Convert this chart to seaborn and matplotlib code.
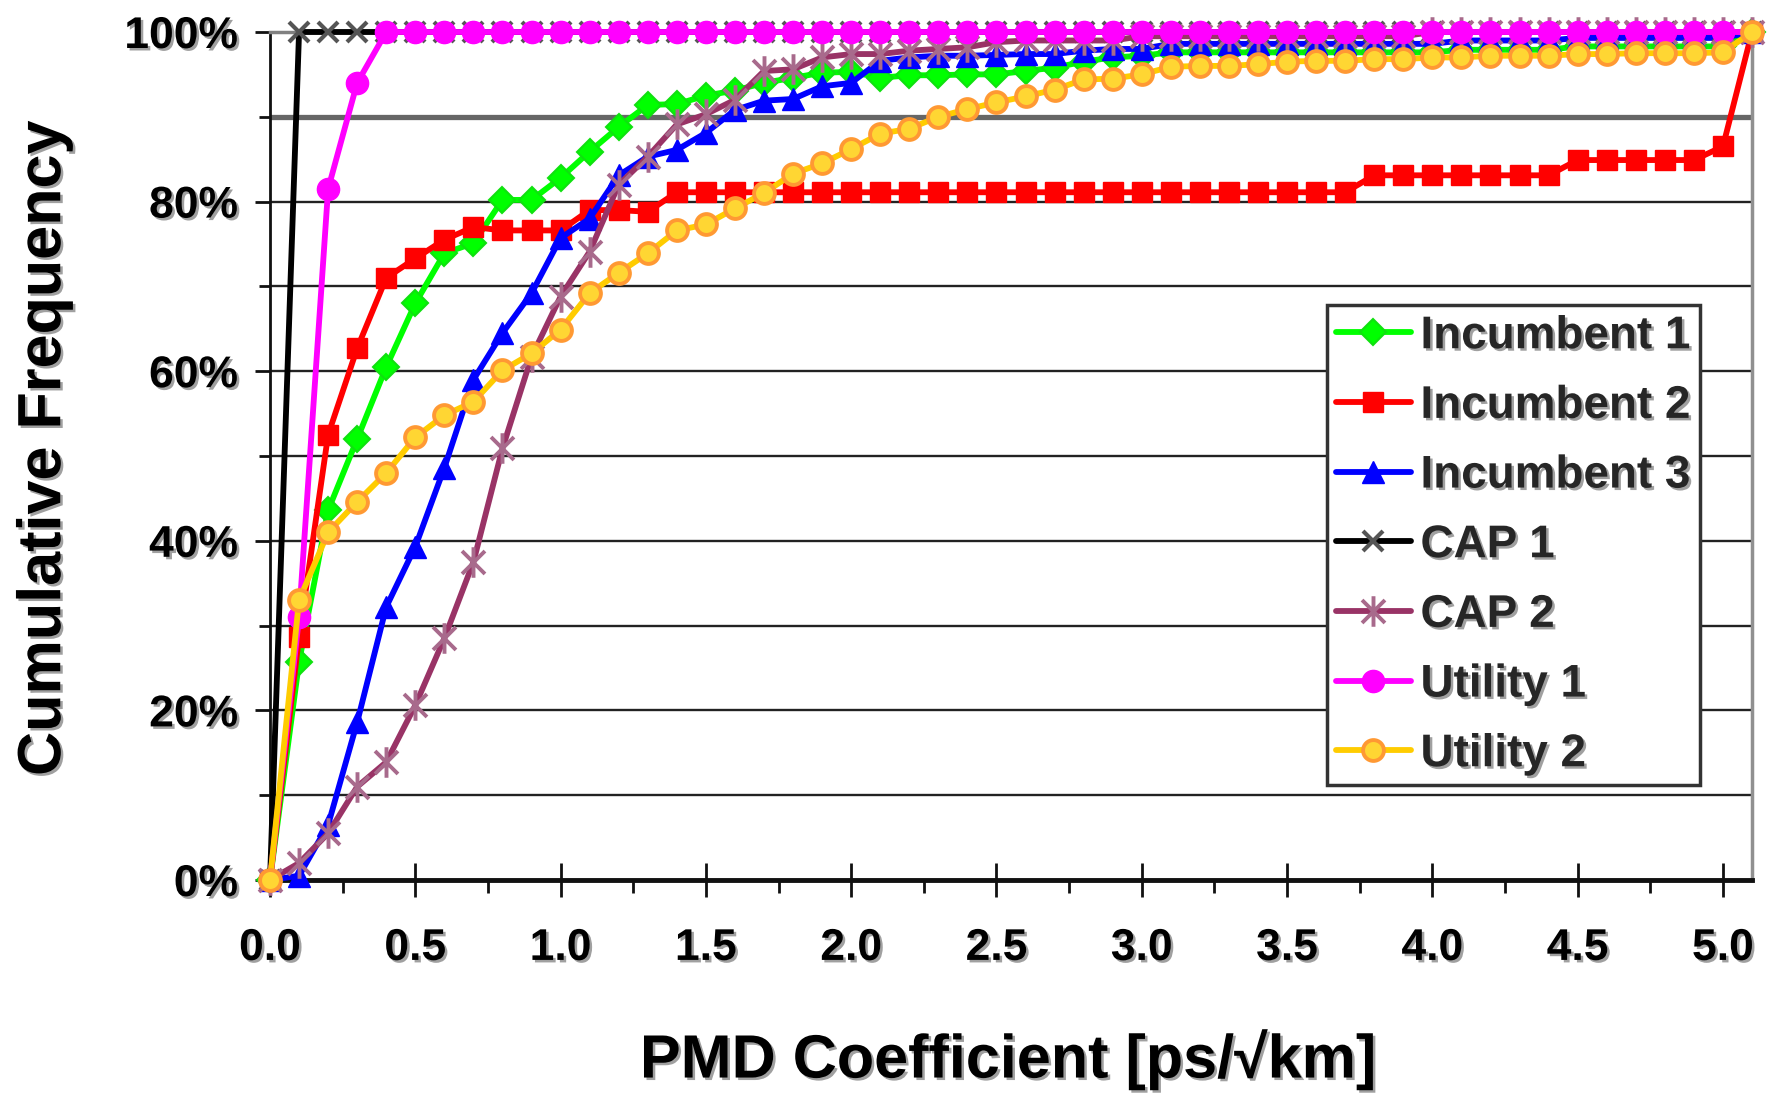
import matplotlib
matplotlib.use("Agg")
import matplotlib.pyplot as plt
import matplotlib.patheffects as pe
from matplotlib.path import Path
from matplotlib.ticker import MultipleLocator, PercentFormatter, FormatStrFormatter
import seaborn as sns
import pandas as pd

# PMD coefficient bins [ps/sqrt(km)]
pmd = [0.0, 0.1, 0.2, 0.3, 0.4, 0.5, 0.6, 0.7, 0.8, 0.9,
       1.0, 1.1, 1.2, 1.3, 1.4, 1.5, 1.6, 1.7, 1.8, 1.9,
       2.0, 2.1, 2.2, 2.3, 2.4, 2.5, 2.6, 2.7, 2.8, 2.9,
       3.0, 3.1, 3.2, 3.3, 3.4, 3.5, 3.6, 3.7, 3.8, 3.9,
       4.0, 4.1, 4.2, 4.3, 4.4, 4.5, 4.6, 4.7, 4.8, 4.9,
       5.0, 5.1]

# Cumulative frequency per operator [%]
incumbent_1 = [0, 25.7, 43.6, 52.0, 60.5, 68.0, 73.9, 75.1, 80.2, 80.2,
               82.8, 85.9, 88.8, 91.4, 91.5, 92.5, 93.1, 94.0, 94.6, 95.2,
               95.3, 94.6, 94.9, 94.9, 95.0, 95.0, 95.4, 95.8, 96.5, 97.0,
               97.2, 97.6, 97.6, 97.6, 97.6, 97.6, 97.6, 97.6, 97.6, 97.6,
               97.6, 97.9, 97.9, 97.9, 97.9, 98.3, 98.3, 98.3, 98.3, 98.3,
               98.3, 100]
incumbent_2 = [0, 28.7, 52.5, 62.7, 71.0, 73.3, 75.5, 77.0, 76.6, 76.6,
               76.6, 79.0, 79.0, 78.8, 81.1, 81.1, 81.1, 81.1, 81.1, 81.1,
               81.1, 81.1, 81.1, 81.1, 81.1, 81.1, 81.1, 81.1, 81.1, 81.1,
               81.1, 81.1, 81.1, 81.1, 81.1, 81.1, 81.1, 81.1, 83.1, 83.1,
               83.1, 83.1, 83.1, 83.1, 83.1, 84.9, 84.9, 84.9, 84.9, 84.9,
               86.5, 100]
incumbent_3 = [0, 0.5, 6.5, 18.6, 32.2, 39.3, 48.6, 59.0, 64.5, 69.2,
               75.7, 78.0, 83.1, 85.3, 86.1, 88.1, 90.8, 91.9, 92.1, 93.6,
               94.0, 96.6, 97.0, 97.2, 97.2, 97.3, 97.4, 97.4, 97.8, 98.0,
               98.0, 98.6, 98.6, 98.6, 98.6, 98.6, 98.6, 98.6, 98.6, 98.6,
               98.6, 99.0, 99.0, 99.0, 99.0, 99.3, 99.3, 99.3, 99.3, 99.3,
               99.3, 100]
cap_1 = [0, 100, 100, 100, 100, 100, 100, 100, 100, 100,
         100, 100, 100, 100, 100, 100, 100, 100, 100, 100,
         100, 100, 100, 100, 100, 100, 100, 100, 100, 100,
         100, 100, 100, 100, 100, 100, 100, 100, 100, 100,
         100, 100, 100, 100, 100, 100, 100, 100, 100, 100,
         100, 100]
cap_2 = [0, 2.0, 5.5, 11.0, 13.9, 20.6, 28.5, 37.5, 50.9, 61.7,
         68.8, 74.1, 82.0, 85.3, 89.1, 90.3, 92.0, 95.4, 95.6, 97.0,
         97.4, 97.4, 97.8, 98.0, 98.2, 98.8, 99.0, 99.0, 99.0, 99.0,
         99.5, 99.5, 99.5, 99.5, 99.5, 99.5, 99.5, 99.5, 99.5, 99.5,
         100, 100, 100, 100, 100, 100, 100, 100, 100, 100,
         100, 100]
utility_1 = [0, 31.0, 81.5, 94.0, 100, 100, 100, 100, 100, 100,
             100, 100, 100, 100, 100, 100, 100, 100, 100, 100,
             100, 100, 100, 100, 100, 100, 100, 100, 100, 100,
             100, 100, 100, 100, 100, 100, 100, 100, 100, 100,
             100, 100, 100, 100, 100, 100, 100, 100, 100, 100,
             100, 100]
utility_2 = [0, 33.0, 41.0, 44.6, 48.0, 52.2, 54.8, 56.4, 60.1, 62.1,
             64.9, 69.2, 71.6, 73.9, 76.6, 77.3, 79.2, 81.0, 83.3, 84.5,
             86.2, 88.0, 88.6, 90.0, 90.9, 91.7, 92.4, 93.2, 94.4, 94.5,
             95.0, 95.9, 96.0, 96.0, 96.2, 96.5, 96.6, 96.6, 96.8, 96.8,
             97.0, 97.0, 97.2, 97.2, 97.2, 97.4, 97.4, 97.5, 97.5, 97.5,
             97.6, 100]

series_names = ["Incumbent 1", "Incumbent 2", "Incumbent 3", "CAP 1",
                "CAP 2", "Utility 1", "Utility 2"]
series_values = [incumbent_1, incumbent_2, incumbent_3, cap_1,
                 cap_2, utility_1, utility_2]

df = pd.concat(
    [pd.DataFrame({"pmd": pmd, "cum": vals, "series": name})
     for name, vals in zip(series_names, series_values)],
    ignore_index=True)

# asterisk marker: vertical bar plus two diagonals
star = Path([(0, -1), (0, 1), (-0.75, -0.75), (0.75, 0.75), (-0.75, 0.75), (0.75, -0.75)],
            [Path.MOVETO, Path.LINETO] * 3)

styles = {
    "Incumbent 1": dict(color="#00FF00", marker="D", markersize=13,
                        markerfacecolor="#00FF00", markeredgecolor="#10E010", markeredgewidth=1.5),
    "Incumbent 2": dict(color="#FF0000", marker="s", markersize=15,
                        markerfacecolor="#FF0000", markeredgecolor="#FF0000", markeredgewidth=1.0),
    "Incumbent 3": dict(color="#0000FF", marker="^", markersize=16,
                        markerfacecolor="#0000FF", markeredgecolor="#0000FF", markeredgewidth=1.0),
    "CAP 1": dict(color="#000000", marker="x", markersize=15,
                  markerfacecolor="none", markeredgecolor="#555555", markeredgewidth=3.0),
    "CAP 2": dict(color="#993366", marker=star, markersize=22,
                  markerfacecolor="none", markeredgecolor="#A86A8C", markeredgewidth=2.8),
    "Utility 1": dict(color="#FF00FF", marker="o", markersize=16,
                      markerfacecolor="#FF00FF", markeredgecolor="#FF00FF", markeredgewidth=1.0),
    "Utility 2": dict(color="#FFCC00", marker="o", markersize=15,
                      markerfacecolor="#FFD633", markeredgecolor="#FF9933", markeredgewidth=2.8),
}

sns.set_theme(style="white")
plt.rcParams["font.family"] = ["Liberation Sans", "DejaVu Sans"]
plt.rcParams["font.weight"] = "bold"

W, H = 1769, 1100
fig = plt.figure(figsize=(W / 100, H / 100), dpi=100)
ax = fig.add_axes([270 / W, 1 - 880 / H, (1752 - 270) / W, 848 / H])

for i, name in enumerate(series_names):
    sub = df[df["series"] == name]
    sns.lineplot(data=sub, x="pmd", y="cum", ax=ax, label=name,
                 linewidth=4.2, clip_on=False, zorder=3 + i, sort=False,
                 **styles[name])

ax.set_xlim(0, 5.1)
ax.set_ylim(0, 100)

# horizontal gridlines every 10 %, with the 90 % reference emphasised
ax.set_axisbelow(True)
ax.yaxis.set_major_locator(MultipleLocator(20))
ax.yaxis.set_minor_locator(MultipleLocator(10))
ax.grid(True, axis="y", which="both", color="#222222", linewidth=1.7)
ax.grid(False, axis="x")
ax.axhline(90, color="#666666", linewidth=3.8, zorder=1)

ax.xaxis.set_major_locator(MultipleLocator(0.5))
ax.xaxis.set_minor_locator(MultipleLocator(0.25))
ax.xaxis.set_major_formatter(FormatStrFormatter("%.1f"))
ax.yaxis.set_major_formatter(PercentFormatter(xmax=100, decimals=0))

ax.tick_params(axis="x", which="major", bottom=True, direction="inout", length=25,
               width=2, color="#111111", pad=22, labelsize=32, labelcolor="black")
ax.tick_params(axis="x", which="minor", bottom=True, direction="out", length=9,
               width=2, color="#111111")
ax.tick_params(axis="y", which="major", left=True, direction="out", length=11,
               width=2, color="#111111", pad=12, labelsize=32, labelcolor="black")
ax.tick_params(axis="y", which="minor", left=True, direction="out", length=8,
               width=2, color="#111111")

for side, col, lw in [("left", "#111111", 2.0), ("bottom", "#111111", 3.5),
                      ("top", "#808080", 2.5), ("right", "#909090", 2.5)]:
    ax.spines[side].set_visible(True)
    ax.spines[side].set_color(col)
    ax.spines[side].set_linewidth(lw)

shadow = [pe.withSimplePatchShadow(offset=(1.8, -1.8), shadow_rgbFace="#888888", alpha=0.8)]

ax.set_xlabel("PMD Coefficient [ps/\u221akm]", fontsize=44, fontweight="bold", color="black")
ax.xaxis.set_label_coords(0.498, -0.212)
ax.xaxis.label.set_va("center")
ax.xaxis.label.set_path_effects(shadow)

ax.set_ylabel("Cumulative Frequency", fontsize=44, fontweight="bold", color="black")
ax.yaxis.set_label_coords(-0.152, 0.509)
ax.yaxis.label.set_va("center")
ax.yaxis.label.set_path_effects(shadow)

leg = ax.legend(loc="upper right", bbox_to_anchor=(0.965, 0.678), frameon=True,
                fancybox=False, prop=dict(family="Liberation Sans", weight="bold", size=33),
                handlelength=1.65, handletextpad=0.2, labelspacing=0.56,
                borderpad=0.2, borderaxespad=0, facecolor="white", framealpha=1,
                edgecolor="#333333")
leg.get_frame().set_linewidth(2.5)
leg.set_zorder(20)
for t in leg.get_texts():
    t.set_path_effects(shadow)

fig.canvas.draw()
for lbl in ax.get_xticklabels() + ax.get_yticklabels():
    lbl.set_path_effects(shadow)

fig.savefig("out.png", dpi=100, facecolor="white")
